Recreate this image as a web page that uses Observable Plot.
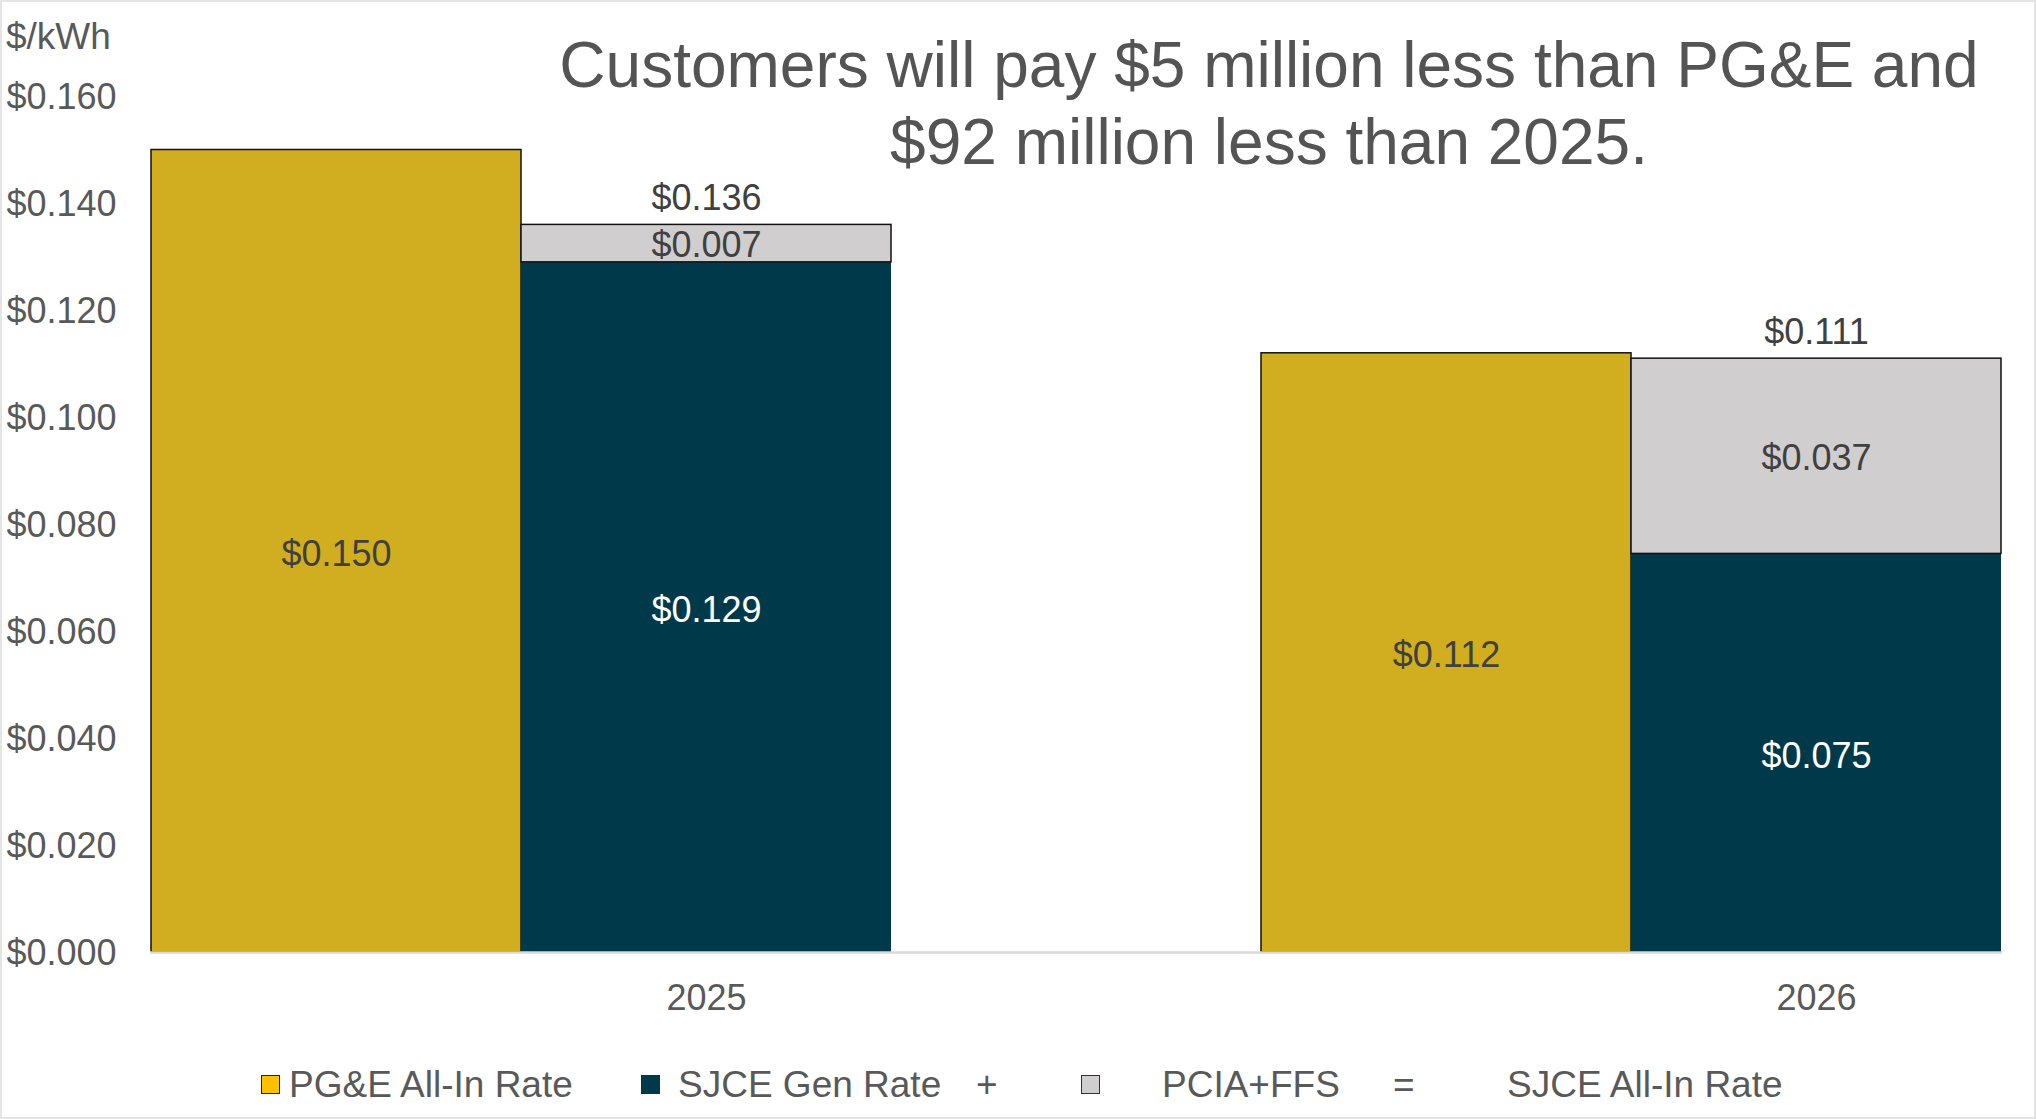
<!DOCTYPE html>
<html>
<head>
<meta charset="utf-8">
<script src="https://cdn.jsdelivr.net/npm/d3@7"></script>
<script src="https://cdn.jsdelivr.net/npm/@observablehq/plot@0.6"></script>
<style>
  html, body { margin: 0; padding: 0; background: #fff; }
  body { font-family: "Liberation Sans", Arial, sans-serif; }
  #wrap { position: relative; width: 2036px; height: 1119px; overflow: hidden; background: #fff; }
  #frame { position: absolute; left: 0; top: 0; width: 2036px; height: 1119px; box-sizing: border-box; border: 2px solid #e4e4e4; pointer-events: none; }
  #chart { position: absolute; left: 0; top: 0; }
  .abs { position: absolute; white-space: nowrap; color: #595959; font-size: 37px; line-height: 37px; }
  #title { position: absolute; left: 369px; width: 1800px; top: 27px; text-align: center; font-size: 64px; line-height: 77px; color: #545454; white-space: nowrap; }
  .sw { position: absolute; width: 19px; height: 19px; box-sizing: border-box; }
</style>
</head>
<body>
<div id="wrap">
  <div id="chart"></div>
  <div id="title"></div>
  <div id="unit" class="abs"></div>
  <div id="legend"></div>
  <div id="frame"></div>
</div>
<script>
// ---- data ----
const years = ["2025", "2026"];
const pgeAllIn = [0.150, 0.112];
const sjceGen = [0.129, 0.0745];
const pciaFfs = [0.007, 0.0365];
const sjceAllIn = [0.136, 0.111];
const yTicks = [0, 0.02, 0.04, 0.06, 0.08, 0.10, 0.12, 0.14, 0.16];
const legendLabels = ["PG&E All-In Rate", "SJCE Gen Rate", "PCIA+FFS", "SJCE All-In Rate"];
const legendOps = ["+", "="];
const titleLines = ["Customers will pay $5 million less than PG&E and", "$92 million less than 2025."];
const unitLabel = "$/kWh";

const colors = { pge: "#D1AE20", gen: "#003A4A", pcia: "#D0CECF" };
const fmt = v => d3.format("$.3f")(v + 1e-9);

// slots: PG&E, SJCE, gap per year (last gap dropped)
const slots = years.flatMap(y => [y + "|PGE", y + "|SJCE", y + "|gap"]).slice(0, -1);

const pgeRows = years.map((y, i) => ({ slot: y + "|PGE", y1: 0, y2: pgeAllIn[i], v: pgeAllIn[i] }));
const genRows = years.map((y, i) => ({ slot: y + "|SJCE", y1: 0, y2: sjceGen[i], v: sjceGen[i] }));
const pciaRows = years.map((y, i) => ({ slot: y + "|SJCE", y1: sjceGen[i], y2: sjceGen[i] + pciaFfs[i], v: pciaFfs[i] }));
const totalRows = years.map((y, i) => ({ slot: y + "|SJCE", v: sjceAllIn[i], top: sjceGen[i] + pciaFfs[i] }));

const font = "\"Liberation Sans\", Arial, sans-serif";

const chart = Plot.plot({
  width: 2036,
  height: 1030,
  marginLeft: 150,
  marginRight: 34,
  marginTop: 96,
  marginBottom: 78,
  style: { fontFamily: font, fontSize: "36px", color: "#595959", background: "transparent", overflow: "visible" },
  x: { type: "band", domain: slots, padding: 0 },
  y: { domain: [0, 0.16] },
  marks: [
    Plot.barY(pgeRows, { x: "slot", y1: "y1", y2: "y2", fill: colors.pge, stroke: "#111", strokeWidth: 1.5, inset: 0 }),
    Plot.barY(genRows, { x: "slot", y1: "y1", y2: "y2", fill: colors.gen, inset: 0 }),
    Plot.barY(pciaRows, { x: "slot", y1: "y1", y2: "y2", fill: colors.pcia, stroke: "#111", strokeWidth: 1.5, inset: 0 }),
    Plot.ruleY([0], { stroke: "#d9d9d9", strokeWidth: 2.5 }),
    Plot.text(pgeRows, { x: "slot", y: d => (d.y1 + d.y2) / 2, text: d => fmt(d.v), fill: "#404040", fontSize: 36, dy: 3 }),
    Plot.text(genRows, { x: "slot", y: d => (d.y1 + d.y2) / 2, text: d => fmt(d.v), fill: "#ffffff", fontSize: 36, dy: 3 }),
    Plot.text(pciaRows, { x: "slot", y: d => (d.y1 + d.y2) / 2, text: d => fmt(d.v), fill: "#404040", fontSize: 36, dy: 2 }),
    Plot.text(totalRows, { x: "slot", y: "top", text: d => fmt(d.v), fill: "#404040", fontSize: 36, dy: -26 }),
    Plot.axisY({ ticks: yTicks, tickFormat: d3.format("$.3f"), tickSize: 0, tickPadding: 34, fontSize: 36, label: null, fill: "#595959", dy: 1 }),
    Plot.axisX({ tickSize: 0, tickPadding: 32, tickFormat: s => s.endsWith("|SJCE") ? s.split("|")[0] : "", fontSize: 36, label: null, fill: "#595959" })
  ]
});
document.getElementById("chart").appendChild(chart);

// title
const t = document.getElementById("title");
titleLines.forEach(l => { const d = document.createElement("div"); d.textContent = l; t.appendChild(d); });

// unit label
const u = document.getElementById("unit");
u.textContent = unitLabel;
u.style.left = "6px"; u.style.top = "18px";

// legend
const lg = document.getElementById("legend");
function sw(left, fill, border) {
  const s = document.createElement("div");
  s.className = "sw"; s.style.left = left + "px"; s.style.top = "1075px";
  s.style.background = fill; s.style.border = border;
  lg.appendChild(s);
}
function txt(left, text) {
  const s = document.createElement("div");
  s.className = "abs"; s.textContent = text; s.style.left = left + "px"; s.style.top = "1066px";
  lg.appendChild(s);
}
sw(261, "#FFC000", "1.5px solid #222"); txt(289, legendLabels[0]);
sw(641, colors.gen, "none"); txt(678, legendLabels[1]); txt(976, legendOps[0]);
sw(1081, colors.pcia, "1.5px solid #333"); txt(1162, legendLabels[2]); txt(1393, legendOps[1]);
txt(1507, legendLabels[3]);
</script>
</body>
</html>
